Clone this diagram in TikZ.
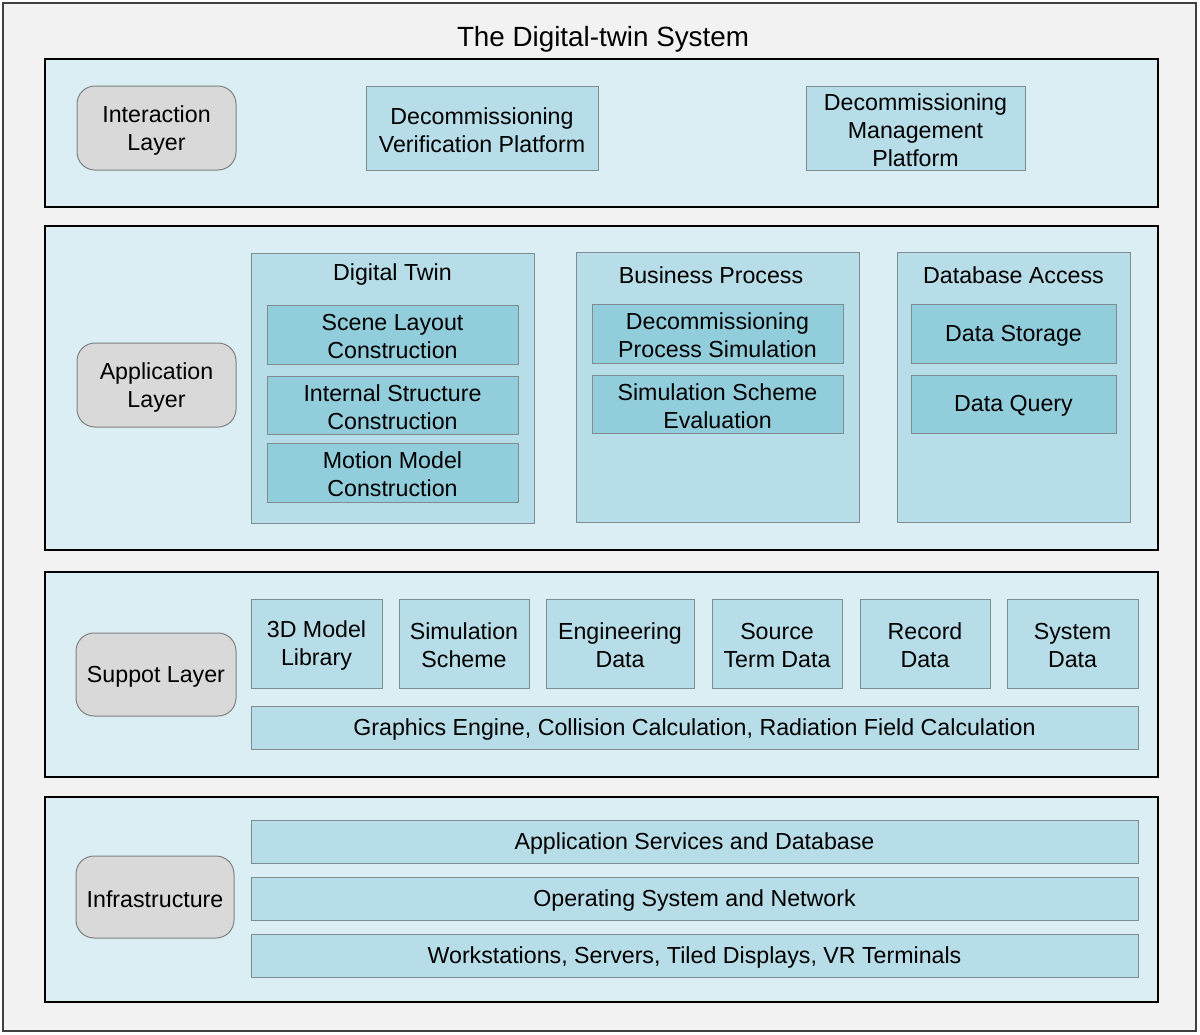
\documentclass[tikz,border=0pt]{standalone}
\usepackage{fontspec}
\setmainfont{Liberation Sans}
\definecolor{bgc}{HTML}{F2F2F2}
\definecolor{layerc}{HTML}{DAEEF3}
\definecolor{boxc}{HTML}{B7DDE8}
\definecolor{innerc}{HTML}{92CDDC}
\definecolor{greyc}{HTML}{D9D9D9}
\definecolor{edgec}{HTML}{7F8C90}
\newcommand{\bx}[7]{%
  \pgfmathsetmacro\bxcx{(#2+#4)/2}\pgfmathsetmacro\bxcy{(#3+#5)/2}%
  \pgfmathsetmacro\bxw{(#4-#2)/2}\pgfmathsetmacro\bxh{(#5-#3)/2}%
  \node[#6, minimum width=\bxw pt, minimum height=\bxh pt] (#1) at (\bxcx,\bxcy) {};
  \node[txt] (#1t) at (\bxcx,\bxcy+2) {#7};}
\tikzset{
  txt/.style={font=\fontsize{11.6}{14}\selectfont, align=center, inner sep=0pt, text=black},
  boxa/.style={draw=edgec, line width=0.5pt, fill=boxc, inner sep=0pt},
  boxb/.style={draw=edgec, line width=0.5pt, fill=innerc, inner sep=0pt},
  cont/.style={draw=edgec, line width=0.5pt, fill=boxc, inner sep=0pt},
  lbl/.style={draw=gray, line width=0.5pt, fill=greyc, rounded corners=9pt, inner sep=0pt},
  layer/.style={draw=black, line width=1pt, fill=layerc},
}
\begin{document}
\begin{tikzpicture}[x=0.5pt,y=-0.5pt]
\useasboundingbox (0,0) rectangle (1200,1034);
\draw[fill=bgc, draw=black!75, line width=0.8pt] (3,3) rectangle (1196,1031);
\node[font=\fontsize{13.9}{16}\selectfont, inner sep=0pt] (title) at (603,39) {The Digital-twin System};
% layers
\draw[layer] (45,59) rectangle (1158,207);
\draw[layer] (45,226) rectangle (1158,550);
\draw[layer] (45,572) rectangle (1158,777);
\draw[layer] (45,797) rectangle (1158,1002);
% interaction layer
\bx{il}{77}{86}{236}{170}{lbl}{Interaction\\Layer}
\bx{dvp}{366}{86}{598}{170}{boxa}{Decommissioning\\Verification Platform}
\bx{dmp}{806}{86}{1025}{170}{boxa}{Decommissioning\\Management\\Platform}
% application layer
\bx{al}{77}{343}{236}{427}{lbl}{Application\\Layer}
\bx{dt}{251}{253}{534}{523}{cont}{}
\node[txt] (dtt) at (392.5,274) {Digital Twin};
\bx{slc}{267}{305}{518}{364}{boxb}{Scene Layout\\Construction}
\bx{isc}{267}{376}{518}{434}{boxb}{Internal Structure\\Construction}
\bx{mmc}{267}{443}{518}{502}{boxb}{Motion Model\\Construction}
\bx{bp}{576}{252}{859}{522}{cont}{}
\node[txt] (bpt) at (711,275) {Business Process};
\bx{dps}{592}{304}{843}{363}{boxb}{Decommissioning\\Process Simulation}
\bx{sse}{592}{375}{843}{433}{boxb}{Simulation Scheme\\Evaluation}
\bx{da}{897}{252}{1130}{522}{cont}{}
\node[txt] (dat) at (1013.5,275) {Database Access};
\bx{ds}{911}{304}{1116}{363}{boxb}{Data Storage}
\bx{dq}{911}{375}{1116}{433}{boxb}{Data Query}
% support layer
\bx{sl}{76}{633}{236}{716}{lbl}{Suppot Layer}
\bx{mlib}{251}{599}{382}{688}{boxa}{3D Model\\Library}
\bx{ss}{399}{599}{529}{688}{boxa}{Simulation\\Scheme}
\bx{ed}{546}{599}{694}{688}{boxa}{Engineering\\Data}
\bx{std}{712}{599}{842}{688}{boxa}{Source\\Term Data}
\bx{rd}{860}{599}{990}{688}{boxa}{Record\\Data}
\bx{sd}{1007}{599}{1138}{688}{boxa}{System\\Data}
\bx{ge}{251}{706}{1138}{749}{boxa}{Graphics Engine, Collision Calculation, Radiation Field Calculation}
% infrastructure
\bx{inf}{76}{856}{234}{938}{lbl}{Infrastructure}
\bx{asd}{251}{820}{1138}{863}{boxa}{Application Services and Database}
\bx{osn}{251}{877}{1138}{920}{boxa}{Operating System and Network}
\bx{wst}{251}{934}{1138}{977}{boxa}{Workstations, Servers, Tiled Displays, VR Terminals}
\end{tikzpicture}
\end{document}
